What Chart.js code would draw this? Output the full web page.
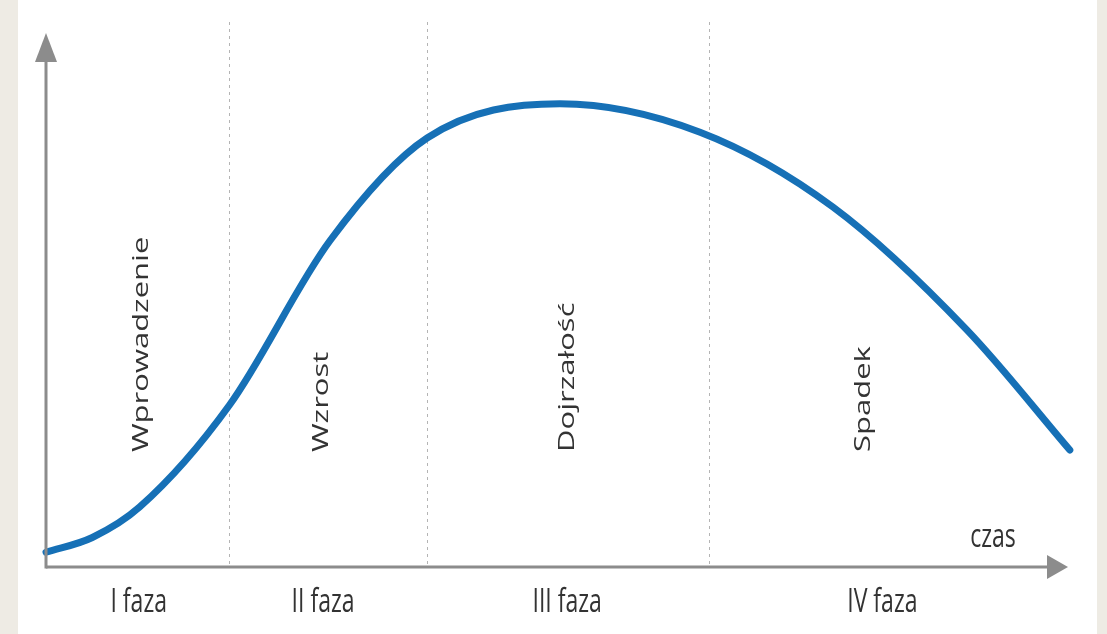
<!DOCTYPE html>
<html>
<head>
<meta charset="utf-8">
<script src="https://cdn.jsdelivr.net/npm/chart.js@4"></script>
<style>
    html, body { margin: 0; padding: 0; background: #eeebe4; }
    #wrap { width: 1107px; height: 634px; }
</style>
</head>
<body>
<div id="wrap"><canvas id="lifeChart" width="1107" height="634"></canvas></div>
<script>
// time axis (0..100) and sales level (0..100)
const timeValues = [0, 4.5, 9.1, 17.8, 27.6, 37.0, 49.9, 63.5, 76.4, 89.4, 99.4];
const salesValues = [2.8, 5.6, 11.4, 30.7, 62.0, 81.4, 87.9, 82.5, 68.3, 45.0, 22.2];

const phaseBounds = [17.8, 37.0, 64.4];
const phaseNames = ['Wprowadzenie', 'Wzrost', 'Dojrzałość', 'Spadek'];
const phaseNameX = [9.3, 26.8, 50.6, 79.4];
const phaseTicks = ['I faza', 'II faza', 'III faza', 'IV faza'];
const phaseTickX = [9.0, 26.9, 50.6, 81.2];
const axisTitle = 'czas';

const FONT = '"Open Sans", "DejaVu Sans", sans-serif';
const SQUEEZE = 0.72; // text in the picture is narrowed horizontally

function squeezedText(ctx, text, x, y, size, rotated, align) {
    ctx.save();
    ctx.translate(x, y);
    ctx.scale(SQUEEZE, 1);
    if (rotated) ctx.rotate(-Math.PI / 2);
    ctx.font = size + 'px ' + FONT;
    ctx.textAlign = align;
    ctx.textBaseline = 'middle';
    ctx.fillText(text, 0, 0);
    ctx.restore();
}

const decorPlugin = {
    id: 'decor',
    beforeDraw(chart) {
        const ctx = chart.ctx;
        ctx.save();
        ctx.fillStyle = '#eeebe4';
        ctx.fillRect(0, 0, chart.width, chart.height);
        ctx.fillStyle = '#ffffff';
        ctx.fillRect(18, 0, 1079, chart.height);
        ctx.restore();

        const xs = chart.scales.x;
        const area = chart.chartArea;
        // dotted phase separators
        ctx.save();
        ctx.strokeStyle = '#b4b4b4';
        ctx.lineWidth = 1;
        ctx.setLineDash([3, 4]);
        phaseBounds.forEach(b => {
            const px = Math.round(xs.getPixelForValue(b)) + 0.5;
            ctx.beginPath();
            ctx.moveTo(px, 22);
            ctx.lineTo(px, area.bottom);
            ctx.stroke();
        });
        ctx.restore();

        // rotated phase names, bottom-aligned
        ctx.save();
        ctx.fillStyle = '#333333';
        phaseNames.forEach((name, i) => {
            squeezedText(ctx, name, xs.getPixelForValue(phaseNameX[i]), 452, 31, true, 'left');
        });
        ctx.restore();
    },
    afterDraw(chart) {
        const ctx = chart.ctx;
        const xs = chart.scales.x;
        const area = chart.chartArea;
        const x0 = xs.getPixelForValue(0);
        const y0 = area.bottom;

        ctx.save();
        ctx.strokeStyle = '#8c8c8c';
        ctx.fillStyle = '#8c8c8c';
        ctx.lineWidth = 3;
        // x axis
        ctx.beginPath();
        ctx.moveTo(x0, y0);
        ctx.lineTo(1050, y0);
        ctx.stroke();
        ctx.beginPath();
        ctx.moveTo(1068, y0);
        ctx.lineTo(1047, y0 - 12);
        ctx.lineTo(1047, y0 + 12);
        ctx.closePath();
        ctx.fill();
        // y axis
        ctx.beginPath();
        ctx.moveTo(x0, y0 + 1.5);
        ctx.lineTo(x0, 60);
        ctx.stroke();
        ctx.beginPath();
        ctx.moveTo(x0, 33);
        ctx.lineTo(x0 - 11, 62);
        ctx.lineTo(x0 + 11, 62);
        ctx.closePath();
        ctx.fill();
        ctx.restore();

        ctx.save();
        ctx.fillStyle = '#333333';
        phaseTicks.forEach((t, i) => {
            squeezedText(ctx, t, xs.getPixelForValue(phaseTickX[i]), 603, 32, false, 'center');
        });
        squeezedText(ctx, axisTitle, 993, 538, 32, false, 'center');
        ctx.restore();
    }
};

const ctx = document.getElementById('lifeChart').getContext('2d');
new Chart(ctx, {
    type: 'line',
    data: {
        datasets: [{
            data: timeValues.map((t, i) => ({ x: t, y: salesValues[i] })),
            borderColor: '#1670b6',
            borderWidth: 7,
            borderCapStyle: 'round',
            borderJoinStyle: 'round',
            pointRadius: 0,
            cubicInterpolationMode: 'monotone',
            fill: false,
            clip: false
        }]
    },
    options: {
        responsive: false,
        animation: false,
        layout: { padding: { left: 46, right: 31, top: 40, bottom: 67 } },
        scales: {
            x: { type: 'linear', min: 0, max: 100, display: false },
            y: { min: 0, max: 100, display: false }
        },
        plugins: {
            legend: { display: false },
            tooltip: { enabled: false }
        }
    },
    plugins: [decorPlugin]
});
</script>
</body>
</html>
